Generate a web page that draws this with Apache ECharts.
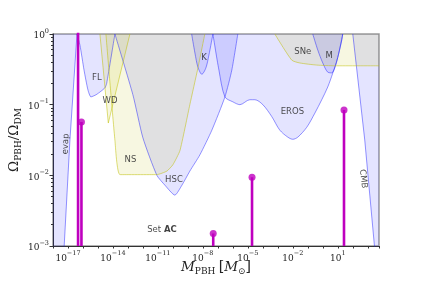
<!DOCTYPE html>
<html><head><meta charset="utf-8">
<script src="https://cdn.jsdelivr.net/npm/echarts@6/dist/echarts.min.js"></script>
<style>html,body{margin:0;padding:0;background:#fff}#c{width:421px;height:281px}</style>
</head><body><div id="c"></div>
<script>
// Constraint boundaries as (log10 M/Msun, log10 Omega_PBH/Omega_DM)
const evapLogM  = [-18, -17.28, -16.87, -16.4];
const evapLogO  = [-3.1, -3.1, -1.5, 0];
const flLogM    = [-16.4, -16.2, -15.93, -15.67, -15.47, -15.13, -14.8, -14.53, -14.42, -13.87];
const flLogO    = [0, -0.16, -0.51, -0.79, -0.89, -0.86, -0.81, -0.76, -0.70, 0];
const hscLogM   = [-13.87, -12.67, -12.0, -11.07, -10.53, -9.87, -9.4, -8.87, -8.2, -7.4, -6.53, -6.07, -5.67];
const hscLogO   = [0, -0.86, -1.47, -2.0, -2.14, -2.28, -2.14, -1.94, -1.71, -1.36, -0.89, -0.51, 0];
const kLogM     = [-8.75, -8.53, -8.33, -8.07, -7.8, -7.6, -7.33];
const kLogO     = [0, -0.27, -0.47, -0.57, -0.48, -0.3, 0];
const erosLogM  = [-7.33, -6.93, -6.53, -6.0, -5.53, -4.87, -4.53, -4.0, -3.4, -2.87, -2.33, -2.0, -1.67, -1.07, -0.53, -0.07, 0.33, 0.67, 1.0, 1.33];
const erosLogO  = [0, -0.51, -0.89, -0.96, -1.0, -0.93, -0.93, -1.0, -1.17, -1.36, -1.46, -1.49, -1.46, -1.32, -1.12, -0.93, -0.75, -0.55, -0.33, 0];
const mLogM     = [-0.67, -0.33, 0, 0.33, 0.6, 0.8, 1.0, 1.27, 1.33];
const mLogO     = [0, -0.23, -0.41, -0.54, -0.55, -0.48, -0.33, -0.085, 0];
const cmbLogM   = [2.0, 2.8, 3.49, 3.75];
const cmbLogO   = [0, -1.5, -3.1, -3.1];
const wdLogM    = [-14.87, -14.31, -14.2, -12.87];
const wdLogO    = [0, -1.26, -1.26, 0];
const nsLogM    = [-14.47, -13.87, -13.53, -11.07, -10.4, -10.0, -9.53, -8.87, -8.33, -7.87];
const nsLogO    = [0, -1.5, -1.99, -1.99, -1.94, -1.85, -1.65, -1.0, -0.48, 0];
const sneLogM   = [-3.2, -2.07, -1.53, -0.4, 0.8, 3.75];
const sneLogO   = [0, -0.37, -0.41, -0.44, -0.45, -0.45];

// "Set AC" stems
const stemMass  = [4.7e-17, 7.9e-17, 4.9e-8, 1.9e-5, 26];
const stemOmega = [1.2, 0.057, 0.0015, 0.0094, 0.084];

// Text annotations
const labelNames = ['FL', 'WD', 'NS', 'HSC', 'K', 'EROS', 'SNe', 'M', 'evap', 'CMB', 'Set AC'];
const labelLogM  = [-15.07, -14.2, -12.83, -9.93, -7.93, -2.03, -1.33, 0.42, -17.15, 2.7, -10.73];
const labelLogO  = [-0.62, -0.95, -1.775, -2.07, -0.33, -1.10, -0.25, -0.31, -1.556, -2.05, -2.77];
const labelRot   = [0, 0, 0, 0, 0, 0, 0, 0, 87, -84, 0];

const X_MIN = 1e-18, X_MAX = 5623, Y_MIN = 1e-3, Y_MAX = 1;

const BLUE_FILL = 'rgba(0,0,255,0.15)', BLUE_EDGE = 'rgba(30,30,255,0.6)';
const YEL_FILL = 'rgba(191,191,0,0.17)', YEL_EDGE = 'rgba(191,191,0,0.65)';
const MAG = '#bf00bf';
const SERIF = 'DejaVu Serif';
const SANS = 'DejaVu Sans';

function pts(lm, lo) { return lm.map((v, i) => [Math.pow(10, v), Math.pow(10, lo[i])]); }
function region(name, lm, lo, fill, edge, smooth) {
  return {
    type: 'line', name, data: pts(lm, lo), showSymbol: false, symbol: 'none',
    smooth: smooth || false, silent: true,
    lineStyle: { color: edge, width: 0.8 },
    areaStyle: { color: fill, origin: 'end' }
  };
}

function expLabel(e) { return '{b|10}{s|' + (e < 0 ? '\u2212' : '') + Math.abs(e) + '}'; }
const tickRich = {
  b: { fontFamily: SERIF, fontSize: 9, color: '#222', lineHeight: 13, verticalAlign: 'bottom' },
  s: { fontFamily: SERIF, fontSize: 6.5, color: '#222', lineHeight: 7, verticalAlign: 'top' }
};

const series = [
  region('evap', evapLogM, evapLogO, BLUE_FILL, BLUE_EDGE),
  region('FL', flLogM, flLogO, BLUE_FILL, BLUE_EDGE, 0.2),
  region('HSC', hscLogM, hscLogO, BLUE_FILL, BLUE_EDGE, 0.2),
  region('K', kLogM, kLogO, BLUE_FILL, BLUE_EDGE, 0.3),
  region('EROS', erosLogM, erosLogO, BLUE_FILL, BLUE_EDGE, 0.3),
  region('M', mLogM, mLogO, BLUE_FILL, BLUE_EDGE, 0.3),
  region('CMB', cmbLogM, cmbLogO, BLUE_FILL, BLUE_EDGE),
  region('WD', wdLogM, wdLogO, YEL_FILL, YEL_EDGE),
  region('NS', nsLogM, nsLogO, YEL_FILL, YEL_EDGE, 0.15),
  region('SNe', sneLogM, sneLogO, YEL_FILL, YEL_EDGE, 0.2)
];

stemMass.forEach((m, i) => {
  series.push({
    type: 'line', data: [[m, Y_MIN], [m, stemOmega[i]]], showSymbol: false, symbol: 'none',
    lineStyle: { color: MAG, width: 2.6 }, silent: true, z: 5
  });
});
series.push({
  type: 'scatter', data: stemMass.map((m, i) => [m, stemOmega[i]]),
  symbolSize: 7, itemStyle: { color: MAG }, silent: true, z: 6
});

series.push({
  type: 'scatter', symbolSize: 0, silent: true, z: 7,
  data: labelNames.map((n, i) => ({
    value: [Math.pow(10, labelLogM[i]), Math.pow(10, labelLogO[i]), n],
    label: { rotate: labelRot[i] }
  })),
  label: {
    show: true, position: 'inside', color: '#222', fontFamily: SANS, fontSize: 8.5,
    formatter: p => p.value[2] === 'Set AC' ? '{n|Set }{k|AC}' : p.value[2],
    rich: {
      n: { fontFamily: SANS, fontSize: 8.5, color: '#222' },
      k: { fontFamily: SANS, fontSize: 8.5, color: '#111', fontWeight: 'bold' }
    }
  }
});

const chart = echarts.init(document.getElementById('c'), null, { renderer: 'canvas' });
chart.setOption({
  animation: false,
  grid: { left: 53, right: 42, top: 34, bottom: 35, containLabel: false, outerBoundsMode: 'none',
          show: true, borderColor: '#9a9a9a', borderWidth: 1.5, backgroundColor: 'transparent' },
  xAxis: {
    type: 'log', logBase: 10, min: X_MIN, max: X_MAX, interval: 1,
    splitLine: { show: false },
    axisLine: { lineStyle: { color: '#333', width: 1 } },
    axisTick: { length: 2.5, lineStyle: { color: '#333' } },
    axisLabel: {
      margin: 4,
      formatter: v => {
        const l = Math.log10(v), e = Math.round(l);
        if (Math.abs(l - e) > 1e-3) return '';
        if ((((e + 17) % 3) + 3) % 3 !== 0) return '';
        return expLabel(e);
      },
      rich: tickRich
    },
    name: '{i|M}{s|PBH} {b|[}{i|M}{o|\u2299}{b|]}',
    nameLocation: 'middle', nameGap: 14, nameMoveOverlap: false,
    nameTextStyle: {
      rich: {
        i: { fontFamily: SERIF, fontStyle: 'italic', fontSize: 13.5, color: '#222', lineHeight: 16, verticalAlign: 'top' },
        s: { fontFamily: SERIF, fontSize: 9, color: '#222', lineHeight: 9, verticalAlign: 'bottom' },
        o: { fontFamily: SERIF, fontSize: 9, color: '#222', lineHeight: 9, verticalAlign: 'bottom' },
        b: { fontFamily: SERIF, fontSize: 14, color: '#222', lineHeight: 16, verticalAlign: 'top' }
      }
    }
  },
  yAxis: {
    type: 'log', logBase: 10, min: Y_MIN, max: Y_MAX, interval: 1,
    splitLine: { show: false },
    axisLine: { lineStyle: { color: '#333', width: 1 } },
    axisTick: { length: 3.5, lineStyle: { color: '#333' } },
    minorTick: { show: true, splitNumber: 9, length: 2, lineStyle: { color: '#333' } },
    axisLabel: {
      margin: 4,
      formatter: v => {
        const l = Math.log10(v), e = Math.round(l);
        if (Math.abs(l - e) > 1e-3) return '';
        return expLabel(e);
      },
      rich: tickRich
    },
    name: '{o|\u03A9}{s|PBH}{o|/\u03A9}{s|DM}',
    nameLocation: 'middle', nameGap: 30, nameRotate: 90, nameMoveOverlap: false,
    nameTextStyle: {
      rich: {
        o: { fontFamily: SERIF, fontSize: 13.5, color: '#222', lineHeight: 16, verticalAlign: 'top' },
        s: { fontFamily: SERIF, fontSize: 9, color: '#222', lineHeight: 9, verticalAlign: 'bottom' }
      }
    }
  },
  series
});
</script>
</body></html>
